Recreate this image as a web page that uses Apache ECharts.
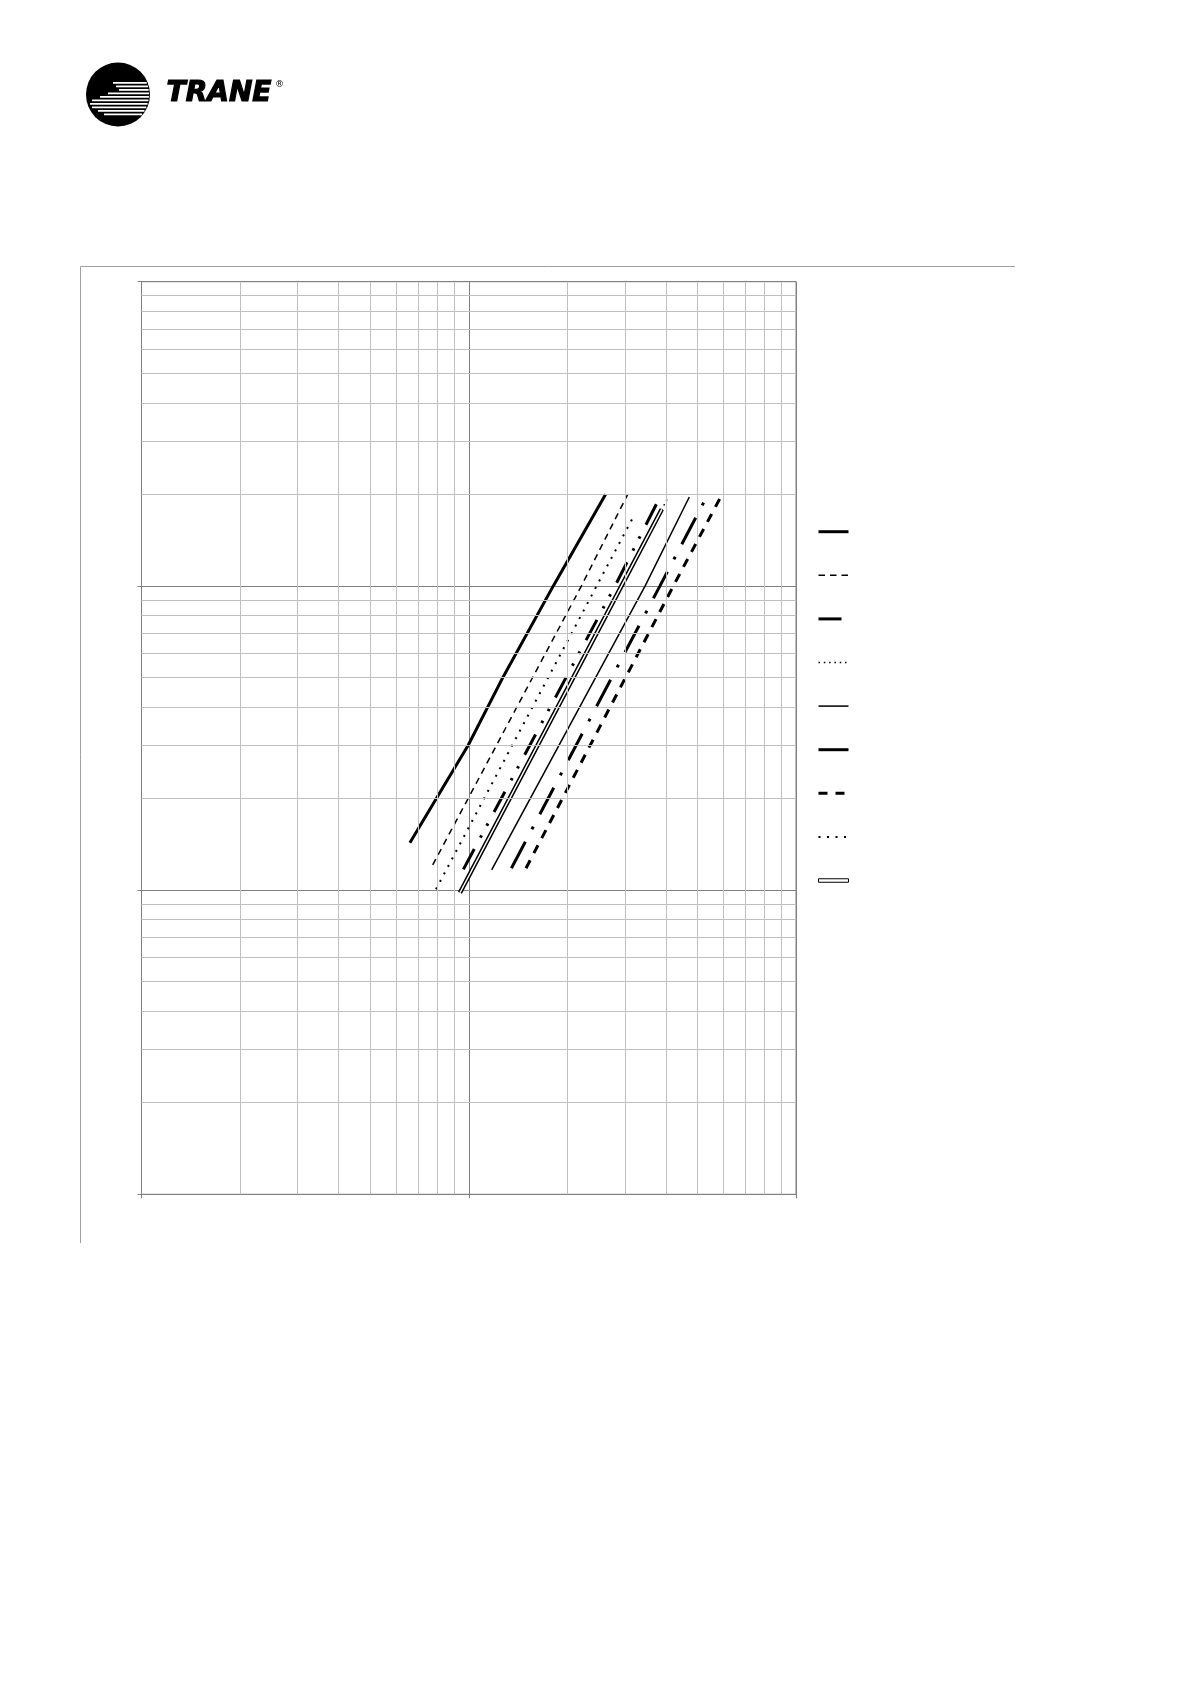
<!DOCTYPE html>
<html><head><meta charset="utf-8">
<script src="https://cdn.jsdelivr.net/npm/echarts@6/dist/echarts.min.js"></script>
<style>html,body{margin:0;padding:0;background:#fff}#c{width:1191px;height:1684px}</style>
</head><body><div id="c"></div>
<script>
// grid values (log-log chart, no labels in the original)
const xMinorLines = [2,3,4,5,6,7,8,9,20,30,40,50,60,70,80,90];
const yMinorLines = [2,3,4,5,6,7,8,9,20,30,40,50,60,70,80,90,200,300,400,500,600,700,800,900];
const seriesNames = ['s1','s2','s3','s4','s5','s6','s7','s8','s9'];
// series values [x, y]
const s1 = [[6.61,14.3],[9.97,30.0],[12.75,50.3],[18.13,100],[26.2,200]];
const s2 = [[7.76,12.1],[22.1,100],[30.6,200]];
const s3 = [[9.63,11.7],[28.0,100],[38.4,196]];
const s4 = [[9.5,10],[29.5,100],[40.7,196]];
const s5 = [[11.75,11.65],[34.6,100],[47.2,196]];
const s6 = [[13.5,11.8],[38.4,100],[53.3,196]];
const s7 = [[14.96,11.8],[42.2,100],[59.3,199]];
const s8 = [[7.94,10.06],[24.6,100],[32.06,171]];
const s9 = [[9.40,9.8],[29.3,100],[38.9,178.6]];

const seriesData = [s1,s2,s3,s4,s5,s6,s7,s8,s9];
const styles = [
  {width:3, type:'solid'},
  {width:1.5, type:[6.5,5]},
  {width:3, type:[23,13,2.5,11,2.5,13]},
  {width:1.5, type:[1.5,3.8]},
  {width:1.5, type:'solid'},
  {width:3, type:[30,14,3,14]},
  {width:3, type:[9,8]},
  {width:2, type:[2,6.5]},
  {width:4.5, type:'solid'}
];

const chart = echarts.init(document.getElementById('c'), null, {renderer:'canvas'});
const series = [];
series.push({
  name:'grid', type:'line', data:[], z:1, silent:true, symbol:'none',
  markLine:{
    silent:true, symbol:['none','none'], label:{show:false}, animation:false,
    lineStyle:{color:'#c0c0c0', width:1, type:'solid'},
    emphasis:{disabled:true},
    data: xMinorLines.map(v=>({xAxis:v})).concat(yMinorLines.map(v=>({yAxis:v})))
  }
});
seriesData.forEach((d,i)=>{
  series.push({
    name: seriesNames[i], type:'line', data:d, symbol:'none', z:3, smooth:false,
    itemStyle:{color:'#000'},
    lineStyle:{color:'#000', width:styles[i].width, type:styles[i].type, cap:'butt'},
    emphasis:{disabled:true}
  });
});
series.push({
  name:'s9 inner', type:'line', data:s9, symbol:'none', z:4,
  itemStyle:{color:'#fff'},
  lineStyle:{color:'#fff', width:1.5, type:'solid'},
  emphasis:{disabled:true}
});

const legendData = seriesNames.map((n,i)=> i===8
  ? {name:n, icon:'path://M0 0H60V7H0Z', itemStyle:{color:'#fff', borderColor:'#000', borderWidth:1, opacity:1}}
  : {name:n, lineStyle:{color:'#000', width:styles[i].width, type:styles[i].type, cap:'butt', opacity:1},
     itemStyle:{color:'rgba(0,0,0,0)', borderColor:'rgba(0,0,0,0)', borderWidth:0, opacity:0}});

chart.setOption({
  animation:false,
  backgroundColor:'#fff',
  grid:{left:141.5, top:281.7, right:395, bottom:489.7, show:true, borderColor:'#808080', borderWidth:1},
  xAxis:{type:'log', logBase:10, min:1, max:100,
    axisLine:{show:true, lineStyle:{color:'#808080'}},
    axisTick:{show:true, length:4, lineStyle:{color:'#808080'}},
    axisLabel:{show:false},
    splitLine:{show:true, lineStyle:{color:'#808080', width:1}},
    minorTick:{show:false}, minorSplitLine:{show:false}},
  yAxis:{type:'log', logBase:10, min:1, max:1000,
    axisLine:{show:true, lineStyle:{color:'#808080'}},
    axisTick:{show:true, length:4, lineStyle:{color:'#808080'}},
    axisLabel:{show:false},
    splitLine:{show:true, lineStyle:{color:'#808080', width:1}}},
  legend:{
    orient:'vertical', left:812, top:519.7, padding:5, itemWidth:30, itemHeight:14, itemGap:31,
    selectedMode:false, formatter:()=> '', textStyle:{fontSize:10},
    data: legendData
  },
  series: series,
  graphic:[
    {type:'line', shape:{x1:80.5,y1:266.5,x2:1015,y2:266.5}, style:{stroke:'#a0a0a0', lineWidth:1}, silent:true},
    {type:'line', shape:{x1:80.5,y1:266.5,x2:80.5,y2:1243}, style:{stroke:'#a0a0a0', lineWidth:1}, silent:true},
    {type:'group', left:86, top:62.5, children:[
      {type:'circle', shape:{cx:32, cy:32, r:32}, style:{fill:'#000'}},
      {type:'group', children: [
        [19.5,27],[23,30],[26.5,33],[30,22],[33.5,14],[37,6],[40.5,4],[44,6],[47.5,12],[51,18]
      ].map(s=>{
        const half = Math.sqrt(Math.max(0,1024-(s[0]+0.9-32)*(s[0]+0.9-32)));
        const xe = 32 + half - 1;
        return {type:'rect', shape:{x:s[1], y:s[0], width:Math.max(0,xe-s[1]), height:1.8}, style:{fill:'#fff'}};
      })}
    ]},
    {type:'text', left:166, top:79, style:{text:'TRANE', font:'italic bold 28px "DejaVu Sans", sans-serif', fill:'#000', stroke:'#000', lineWidth:1.2}, silent:true},
    {type:'text', left:275, top:80, style:{text:'®', font:'9px "DejaVu Sans", sans-serif', fill:'#000'}, silent:true}
  ]
});
</script>
</body></html>
